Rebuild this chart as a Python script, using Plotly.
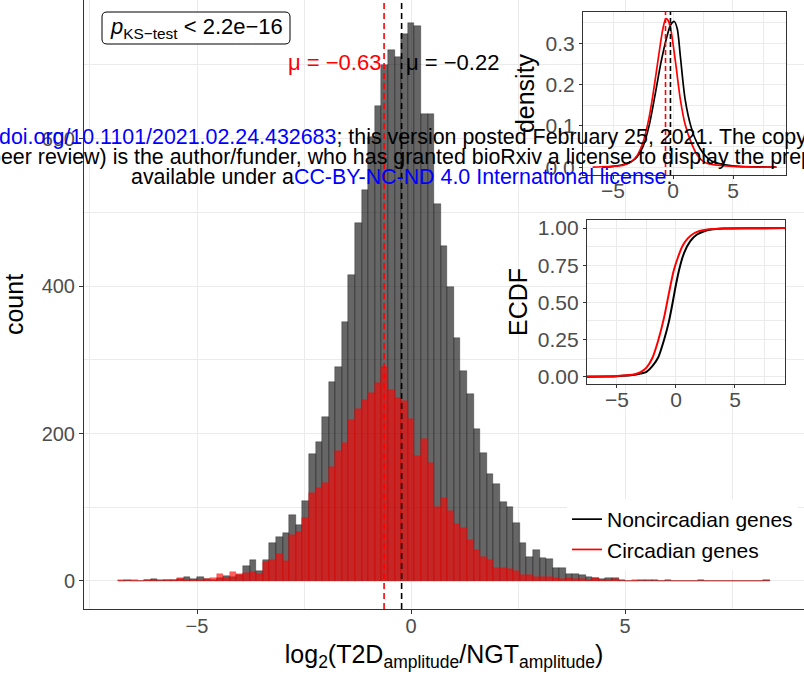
import plotly.graph_objects as go

W, H = 804, 676
FONT = "Liberation Sans, Arial, sans-serif"

# ---------------- data ----------------
BIN_WIDTH = 0.1539
FIRST_BIN = -44  # bin index of first value (bins centred on k*BIN_WIDTH)

noncircadian_counts = [
    0, 1, 0, 0, 2, 3, 1, 1, 2, 3, 5, 3, 5, 3, 2, 4, 7, 5, 8,
    21, 29, 14, 28, 51, 60, 65, 89, 76, 108, 172, 189, 222,
    270, 290, 351, 415, 485, 530, 602, 644, 700, 720, 711, 742, 757,
    753, 633, 634, 511, 455, 399, 329, 285, 254, 206, 174, 145, 131,
    107, 100, 78, 52, 33, 42, 31, 30, 18, 18, 9, 9, 8, 6, 4, 3, 4, 4, 2, 0, 0,
    2, 1, 2, 0, 2, 0, 0, 0, 0, 1, 0, 0, 0, 0, 0, 0, 0, 0, 0, 1,
]
circadian_counts = [
    1, 0, 1, 0, 1, 1, 0, 1, 1, 4, 1, 2, 2, 3, 4, 9, 4, 12, 9,
    11, 12, 9, 26, 29, 37, 27, 62, 67, 85, 119, 126, 133,
    154, 176, 187, 218, 233, 245, 255, 268, 290, 259, 248, 244, 220,
    169, 192, 160, 101, 112, 95, 77, 72, 55, 42, 33, 29, 18,
    18, 16, 14, 8, 8, 5, 5, 5, 4, 3, 4, 3, 3, 2, 4, 2, 1, 3, 0, 0,
    1, 0, 0, 0, 0, 0, 0, 0, 0, 0, 0, 0, 0, 0, 0, 0, 0, 0, 0, 0, 0,
]
bin_centers = [(FIRST_BIN + i) * BIN_WIDTH for i in range(len(noncircadian_counts))]

mean_noncircadian = -0.22
mean_circadian = -0.63

# density curves
dens_x_circ = [-6.7, -6.0, -5.0, -4.5, -4.0, -3.5, -3.0, -2.5, -2.0, -1.6, -1.2, -0.85,
               -0.6, -0.4, -0.2, 0.2, 0.6, 1.0, 1.5, 2.0, 2.5, 3.0, 4.0, 5.0, 6.0, 7.0, 8.6]
dens_y_circ = [0.000, 0.001, 0.002, 0.003, 0.006, 0.013, 0.028, 0.060, 0.120, 0.190, 0.270, 0.335,
               0.360, 0.355, 0.335, 0.255, 0.165, 0.104, 0.060, 0.030, 0.014, 0.008, 0.004, 0.002,
               0.001, 0.000, 0.000]
dens_x_noncirc = [-5.9, -5.0, -4.0, -3.5, -3.0, -2.5, -2.0, -1.5, -1.0, -0.5, -0.2, 0.1, 0.35,
                  0.6, 1.0, 1.5, 2.0, 2.5, 3.0, 3.5, 4.0, 4.5, 5.5, 6.5, 7.5, 8.6]
dens_y_noncirc = [0.000, 0.002, 0.007, 0.013, 0.025, 0.050, 0.100, 0.175, 0.255, 0.318, 0.345,
                  0.353, 0.335, 0.270, 0.165, 0.097, 0.058, 0.034, 0.019, 0.011, 0.008, 0.005,
                  0.002, 0.001, 0.001, 0.000]

# ECDF curves
ecdf_x_circ = [-12, -6.7, -5.0, -4.0, -3.5, -3.0, -2.5, -2.0, -1.5, -1.0, -0.6, -0.2, 0.2, 0.6,
               1.0, 1.5, 2.0, 3.0, 4.0, 6.0, 12]
ecdf_y_circ = [0.0, 0.0, 0.004, 0.010, 0.016, 0.030, 0.060, 0.125, 0.245, 0.400, 0.560, 0.710,
               0.810, 0.885, 0.930, 0.963, 0.980, 0.993, 0.997, 0.999, 1.0]
ecdf_x_noncirc = [-12, -5.9, -5.0, -4.0, -3.5, -3.0, -2.5, -2.0, -1.5, -1.0, -0.6, -0.3, 0.0, 0.3,
                  0.7, 1.2, 1.75, 2.5, 3.0, 4.0, 6.0, 12]
ecdf_y_noncirc = [0.0, 0.0, 0.003, 0.008, 0.012, 0.020, 0.032, 0.070, 0.130, 0.250, 0.370, 0.490,
                  0.620, 0.730, 0.835, 0.910, 0.955, 0.982, 0.990, 0.996, 0.999, 1.0]

series_names = ["Noncircadian genes", "Circadian genes"]
line_colors = ["#000000", "#ff0000"]
bar_colors = ["rgba(0,0,0,0.6)", "rgba(255,0,0,0.62)"]

# ---------------- figure ----------------
fig = go.Figure()

for counts, col in zip([noncircadian_counts, circadian_counts], bar_colors):
    fig.add_trace(go.Bar(
        x=bin_centers, y=counts, width=BIN_WIDTH,
        marker=dict(color=col, line=dict(width=0.5, color=col)),
        showlegend=False, xaxis="x", yaxis="y", hoverinfo="skip"))

# density inset (x3/y3)
for xs, ys, name, col in [(dens_x_noncirc, dens_y_noncirc, series_names[0], line_colors[0]),
                          (dens_x_circ, dens_y_circ, series_names[1], line_colors[1])]:
    fig.add_trace(go.Scatter(x=xs, y=ys, mode="lines", name=name,
                             line=dict(color=col, width=1.7, shape="spline", smoothing=0.8),
                             xaxis="x3", yaxis="y3", showlegend=True))

# ECDF inset (x5/y5)
for xs, ys, col in [(ecdf_x_noncirc, ecdf_y_noncirc, line_colors[0]),
                    (ecdf_x_circ, ecdf_y_circ, line_colors[1])]:
    fig.add_trace(go.Scatter(x=xs, y=ys, mode="lines",
                             line=dict(color=col, width=2, shape="spline", smoothing=0.6),
                             xaxis="x5", yaxis="y5", showlegend=False))

def px_x(p):
    return p / W

def px_y(p):
    return (H - p) / H

grid = "#ebebeb"
tickgrey = "#4d4d4d"

main_x = dict(domain=[px_x(84), 1.0], range=[-7.64, 9.18], anchor="y", automargin=False,
              dtick=5, tick0=0, ticks="outside", ticklen=4, tickcolor="#333333",
              ticklabelstandoff=-5,
              showline=True, linecolor="#333333", linewidth=1, zeroline=False,
              showgrid=True, gridcolor=grid, gridwidth=1.4,
              minor=dict(dtick=2.5, showgrid=True, gridcolor=grid, gridwidth=0.7),
              tickfont=dict(size=20, color=tickgrey),
              title=dict(text="log<sub>2</sub>(T2D<sub>amplitude</sub>/NGT<sub>amplitude</sub>)",
                         font=dict(size=25, color="black"), standoff=9))
main_y = dict(domain=[px_y(609), 1.0], range=[-38, 788], anchor="x", automargin=False,
              dtick=200, tick0=0, ticks="outside", ticklen=4, tickcolor="#333333",
              showline=True, linecolor="#333333", linewidth=1, zeroline=False,
              showgrid=True, gridcolor=grid, gridwidth=1.4,
              minor=dict(dtick=100, showgrid=True, gridcolor=grid, gridwidth=0.7),
              tickfont=dict(size=20, color=tickgrey),
              title=dict(text="count", font=dict(size=25, color="black"), standoff=10))

hidden = dict(visible=False, showgrid=False, zeroline=False, range=[0, 1], fixedrange=True,
              automargin=False)

inset_common = dict(ticks="outside", ticklen=3, tickcolor="#333333", showline=True, mirror=True,
                    linecolor="#333333", linewidth=1.2, zeroline=False, showgrid=True,
                    gridcolor=grid, gridwidth=1.2, tickfont=dict(size=21, color=tickgrey),
                    automargin=False)

fig.update_layout(
    width=W, height=H, margin=dict(l=0, r=0, t=0, b=0, autoexpand=False),
    paper_bgcolor="white", plot_bgcolor="white",
    font=dict(family=FONT, color="black"),
    barmode="overlay", bargap=0,
    xaxis=main_x, yaxis=main_y,
    # background panel behind density inset
    xaxis2=dict(domain=[px_x(510), px_x(795)], anchor="y2", **hidden),
    yaxis2=dict(domain=[px_y(205), 1.0], anchor="x2", **hidden),
    # density inset
    xaxis3=dict(domain=[px_x(583), px_x(786)], range=[-7.5, 9.4], anchor="y3", dtick=5, tick0=0,
                ticklabelstandoff=-6,
                minor=dict(dtick=2.5, showgrid=True, gridcolor=grid, gridwidth=0.6), **inset_common),
    yaxis3=dict(domain=[px_y(175), px_y(12)], range=[-0.019, 0.376], anchor="x3", dtick=0.1,
                tick0=0, tickformat=".1f",
                minor=dict(dtick=0.05, showgrid=True, gridcolor=grid, gridwidth=0.6),
                title=dict(text="density", font=dict(size=25, color="black"), standoff=3),
                **inset_common),
    # background panel behind ECDF inset
    xaxis4=dict(domain=[px_x(503), px_x(793)], anchor="y4", **hidden),
    yaxis4=dict(domain=[px_y(423), px_y(207)], anchor="x4", **hidden),
    # ECDF inset
    xaxis5=dict(domain=[px_x(587), px_x(785)], range=[-7.54, 9.24], anchor="y5", dtick=5, tick0=0,
                ticklabelstandoff=-6,
                minor=dict(dtick=2.5, showgrid=True, gridcolor=grid, gridwidth=0.6), **inset_common),
    yaxis5=dict(domain=[px_y(384), px_y(220)], range=[-0.05, 1.054], anchor="x5", dtick=0.25,
                tick0=0, tickformat=".2f",
                minor=dict(dtick=0.125, showgrid=True, gridcolor=grid, gridwidth=0.6),
                title=dict(text="ECDF", font=dict(size=25, color="black"), standoff=3),
                **inset_common),
    legend=dict(x=px_x(567), y=px_y(499), xanchor="left", yanchor="top",
                bgcolor="white", font=dict(size=21, color="black"),
                traceorder="normal", itemwidth=30, tracegroupgap=0),
    showlegend=True,
)

# mean lines
for m, col in [(mean_noncircadian, "#000000"), (mean_circadian, "#ff0000")]:
    fig.add_shape(type="line", xref="x", yref="y domain", x0=m, x1=m, y0=0, y1=1,
                  line=dict(color=col, width=1.6, dash="6px,4px"), layer="above")
    fig.add_shape(type="line", xref="x3", yref="y3 domain", x0=m, x1=m, y0=0, y1=1,
                  line=dict(color=col, width=1.6, dash="5px,3px"), layer="above")

# mean labels
fig.add_annotation(x=mean_circadian, y=703, xref="x", yref="y", xanchor="right",
                   yanchor="middle", xshift=-1,
                   text="\u03bc = \u22120.63", showarrow=False,
                   font=dict(size=22, color="#ff0000"))
fig.add_annotation(x=mean_noncircadian, y=703, xref="x", yref="y", xanchor="left",
                   yanchor="middle", xshift=2,
                   text="\u03bc = \u22120.22", showarrow=False,
                   font=dict(size=22, color="#000000"))

# p-value box (rounded rectangle)
x0, x1 = px_x(102), px_x(290)
y0, y1 = px_y(44), px_y(12)
rx, ry = 5 / W, 5 / H
path = (f"M {x0+rx},{y0} L {x1-rx},{y0} Q {x1},{y0} {x1},{y0+ry} L {x1},{y1-ry} "
        f"Q {x1},{y1} {x1-rx},{y1} L {x0+rx},{y1} Q {x0},{y1} {x0},{y1-ry} "
        f"L {x0},{y0+ry} Q {x0},{y0} {x0+rx},{y0} Z")
fig.add_shape(type="path", path=path, xref="paper", yref="paper",
              fillcolor="white", line=dict(color="black", width=1), layer="above")
fig.add_annotation(x=px_x(196), y=px_y(28), xref="paper", yref="paper", showarrow=False,
                   xanchor="center", yanchor="middle",
                   text="<i>p</i><sub>KS\u2212test</sub> &lt; 2.2e\u221216",
                   font=dict(size=22, color="black"))

# bioRxiv watermark
blue = "#0000ff"
wm = [
    (-3, 137, f"<span style='color:{blue}'>doi.org/10.1101/2021.02.24.432683</span>; this version posted February 25, 2021. The copyright holder for this preprint"),
    (-13, 157, "peer review) is the author/funder, who has granted bioRxiv a license to display the preprint in perpetuity. It is made"),
    (129, 177, f"available under a<span style='color:{blue}'>CC-BY-NC-ND 4.0 International license</span>."),
]
for xp, yp, t in wm:
    fig.add_annotation(x=px_x(xp), y=px_y(yp), xref="paper", yref="paper", xanchor="left",
                       yanchor="middle", showarrow=False, text=t,
                       font=dict(size=21.4, color="black"))

fig.write_html("out.html",
               config={"displayModeBar": False},
               post_script="document.body.style.margin='0';document.body.style.padding='0';")
